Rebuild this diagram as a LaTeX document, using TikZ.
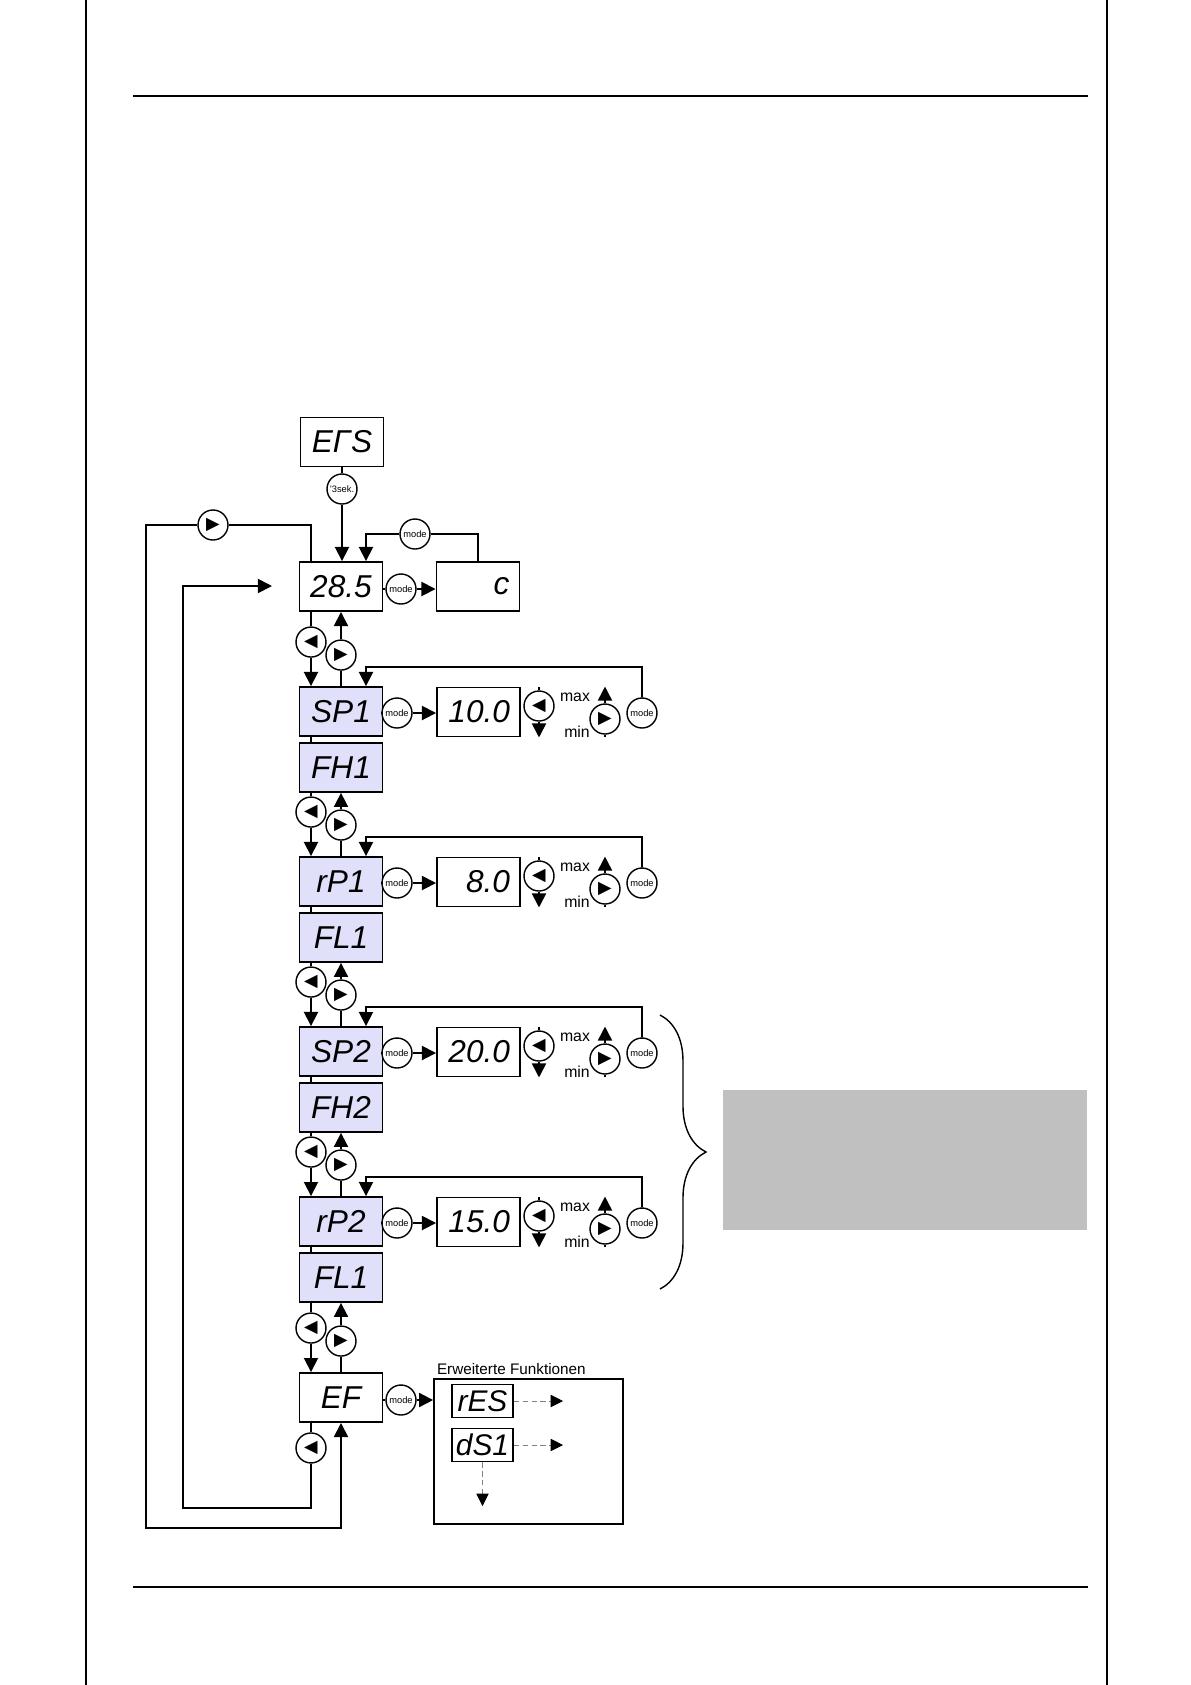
\documentclass[tikz,border=0pt]{standalone}
\usepackage{fontspec}
\setmainfont{Liberation Sans}
\newfontfamily\symfont{DejaVu Sans}
\usepackage{tikz}
\usetikzlibrary{
    shapes.geometric, arrows.meta, positioning,
    calc, decorations.pathreplacing
}
\definecolor{parblue}{RGB}{224,224,250}
\definecolor{notegray}{RGB}{192,192,192}
\tikzset{
  disp/.style={rectangle, draw, line width=1.1pt, fill=white,
               minimum width=1.66cm, minimum height=0.98cm,
               inner sep=0pt, font=\itshape\fontsize{18}{18}\selectfont},
  par/.style={disp, fill=parblue},
  valbox/.style={disp, align=right, text width=1.26cm, inner xsep=0.2cm},
  mini/.style={disp, minimum width=1.22cm, minimum height=0.66cm,
               font=\itshape\fontsize{17}{17}\selectfont},
  btn/.style={circle, draw, fill=white, line width=0.8pt,
              minimum size=0.6cm, inner sep=0pt,
              font=\symfont\fontsize{10}{10}\selectfont},
  modebtn/.style={btn, font=\fontsize{5.3}{6}\selectfont},
  lbl/.style={font=\fontsize{9}{10}\selectfont, inner sep=1pt},
  ln/.style={line width=1pt},
  arr/.style={ln, -{Triangle[length=8pt, width=8pt]}},
  dotarr/.style={densely dashed, gray, line width=0.4pt,
                 -{Triangle[length=7pt, width=7pt, color=black]}},
  page/.style={line width=0.8pt},
}

\begin{document}
\begin{tikzpicture}[x=0.02cm, y=-0.02cm]
  \useasboundingbox (0,0) rectangle (1191,1685);
  \draw[page] (86,0) -- (86,1685);
  \draw[page] (1107,0) -- (1107,1685);
  \draw[page] (133,96) -- (1088,96);
  \draw[page] (133,1587) -- (1088,1587);

  \node[disp] (ers) at (342,442) {EΓS};
  \node[modebtn] (t3) at (342,489) {'3sek.};
  \node[disp] (d285) at (341,586.5) {28.5};
  \node[modebtn] (m0) at (401,589) {mode};
  \node[valbox] (cbox) at (478,586.5) {c};
  \node[modebtn] (mtop) at (415,534) {mode};
  \node[btn] (tl) at (213,525) {▶};

  \foreach \k/\plab/\flab/\val in {1/SP1/FH1/10.0, 2/rP1/FL1/8.0,
                                    3/SP2/FH2/20.0, 4/rP2/FL1/15.0}{
    \pgfmathsetmacro\rowy{687+170*(\k-1)}
    \node[par] (p\k) at (341,\rowy+24.5) {\plab};
    \node[par, below=0.1cm of p\k] (f\k) {\flab};
    \node[modebtn] (m\k) at (397,\rowy+26) {mode};
    \node[valbox] (v\k) at (478.5,\rowy+25) {\val};
    \node[btn] (dn\k) at (539,\rowy+19) {◀};
    \node[lbl] (mx\k) at (575,\rowy+10) {max};
    \node[lbl] (mn\k) at (577,\rowy+45) {min};
    \node[btn] (up\k) at (605,\rowy+32) {▶};
    \node[modebtn] (mr\k) at (642,\rowy+26) {mode};

    \draw[ln] ([xshift=-0.6cm]p\k.south) -- ([xshift=-0.6cm]f\k.north);
    \draw[ln] (p\k.east |- m\k) -- (m\k);
    \draw[arr] (m\k) -- (m\k -| v\k.west);
    \draw[ln] (dn\k) -- (dn\k |- v\k.north);
    \draw[arr] (dn\k) -- (dn\k |- v\k.south);
    \draw[arr] (up\k) -- (up\k |- v\k.north);
    \draw[ln] (up\k) -- (up\k |- v\k.south);
    \draw[arr] (mr\k) |- ([shift={(25,-19)}]p\k.north) -- ([xshift=0.5cm]p\k.north);
  }

  \node[disp] (ef) at (341,1397.5) {EF};
  \node[modebtn] (mef) at (401,1400) {mode};
  \node[btn] (eb) at ([shift={(-30,25)}]ef.south) {◀};
  \node[draw, line width=1pt, minimum width=3.78cm, minimum height=2.9cm,
        inner sep=0pt] (ext) at (528.5,1451.5) {};
  \node[lbl, anchor=south west, inner sep=2pt, font=\fontsize{8.7}{10}\selectfont]
    (extl) at (ext.north west) {Erweiterte Funktionen};
  \node[mini] (res) at (482.5,1401) {rES};
  \node[mini] (ds) at (482.5,1445) {dS1};

  \foreach \a/\b [count=\i] in {d285/p1, f1/p2, f2/p3, f3/p4, f4/ef}{
    \node[btn] (gl\i) at ([shift={(-30,-44)}]\b.north) {◀};
    \node[btn] (gr\i) at ([shift={(0,-31)}]\b.north) {▶};
    \draw[ln] (gl\i) -- (gl\i |- \a.south);
    \draw[arr] (gl\i) -- (gl\i |- \b.north);
    \draw[arr] (gr\i) -- (\a.south);
    \draw[ln] (gr\i) -- (\b.north);
  }

  \draw[ln] (ers) -- (t3);
  \draw[arr] (t3) -- (t3 |- d285.north);
  \draw[ln] (cbox) |- (mtop);
  \draw[arr] (mtop) -| ([xshift=0.5cm]d285.north);
  \draw[ln] (d285.east |- m0) -- (m0);
  \draw[arr] (m0) -- (m0 -| cbox.west);

  \draw[ln] (ef.east |- mef) -- (mef);
  \draw[arr] (mef) -- (mef -| ext.west);

  \coordinate (ol) at (146,1528);
  \coordinate (il) at (183,1508);
  \coordinate (tip) at (272,586);
  \draw[ln] (tl) -| ([xshift=-0.6cm]d285.north);
  \draw[arr] (tl) -| (ol) -| (ef.south);
  \draw[ln] (eb) -- (eb |- ef.south);
  \draw[arr] (eb) |- (il) |- (tip);

  \coordinate (resx) at (563,1401);
  \coordinate (dsx) at (563,1445);
  \coordinate (dsy) at (482.5,1506);
  \draw[dotarr] (res) -- (resx);
  \draw[dotarr] (ds) -- (dsx);
  \draw[dotarr] (ds) -- (dsy);

  \coordinate (bt) at (660,1015);
  \coordinate (bb) at (660,1289);
  \draw[line width=0.8pt, decorate, decoration={brace, amplitude=0.92cm}] (bt) -- (bb);
  \node[fill=notegray, minimum width=7.28cm, minimum height=2.8cm,
        inner sep=0pt] (note) at (905,1160) {};
\end{tikzpicture}
\end{document}
